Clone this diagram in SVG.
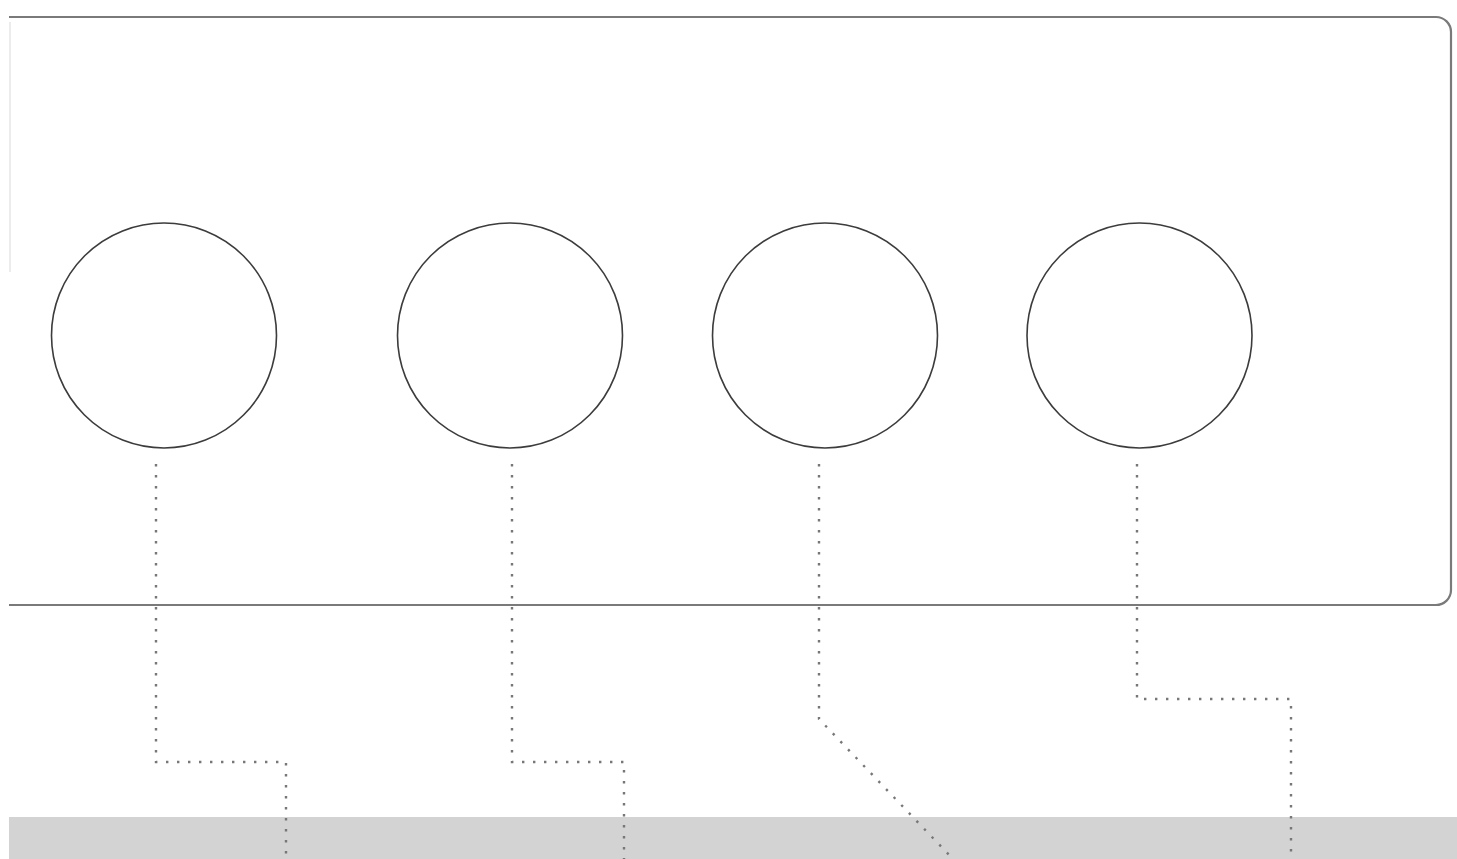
<svg xmlns="http://www.w3.org/2000/svg" width="1457" height="859" viewBox="0 0 1457 859">
<style>
.frame{fill:none;stroke:#7a7a7a;stroke-width:2.2}
.node{fill:#fff;stroke:#3c3c3c;stroke-width:1.6}
.dot{fill:none;stroke:#777;stroke-width:2.4;stroke-dasharray:2.4 8.6}
</style>
<rect x="0" y="0" width="1457" height="859" fill="#fff"/>
<rect id="band" x="9" y="817" width="1448" height="42" fill="#d3d3d3"/>
<g id="panel">
<path class="frame" d="M9,17 H1436 A15,15 0 0 1 1451,32 V590 A15,15 0 0 1 1436,605 H9"/>
<line x1="10" y1="22" x2="10" y2="272" stroke="#e6e6e6" stroke-width="1.5"/>
</g>
<g id="connectors">
<path class="dot" d="M156,464 V762 H286 V859"/>
<path class="dot" d="M512,464 V762 H624 V859"/>
<path class="dot" d="M819,464 V719 L953,859"/>
<path class="dot" d="M1137,464 V699 H1291 V859"/>
</g>
<g id="node1"><circle class="node" cx="164" cy="335.5" r="112.5"/></g>
<g id="node2"><circle class="node" cx="510" cy="335.5" r="112.5"/></g>
<g id="node3"><circle class="node" cx="825" cy="335.5" r="112.5"/></g>
<g id="node4"><circle class="node" cx="1139.5" cy="335.5" r="112.5"/></g>
</svg>
